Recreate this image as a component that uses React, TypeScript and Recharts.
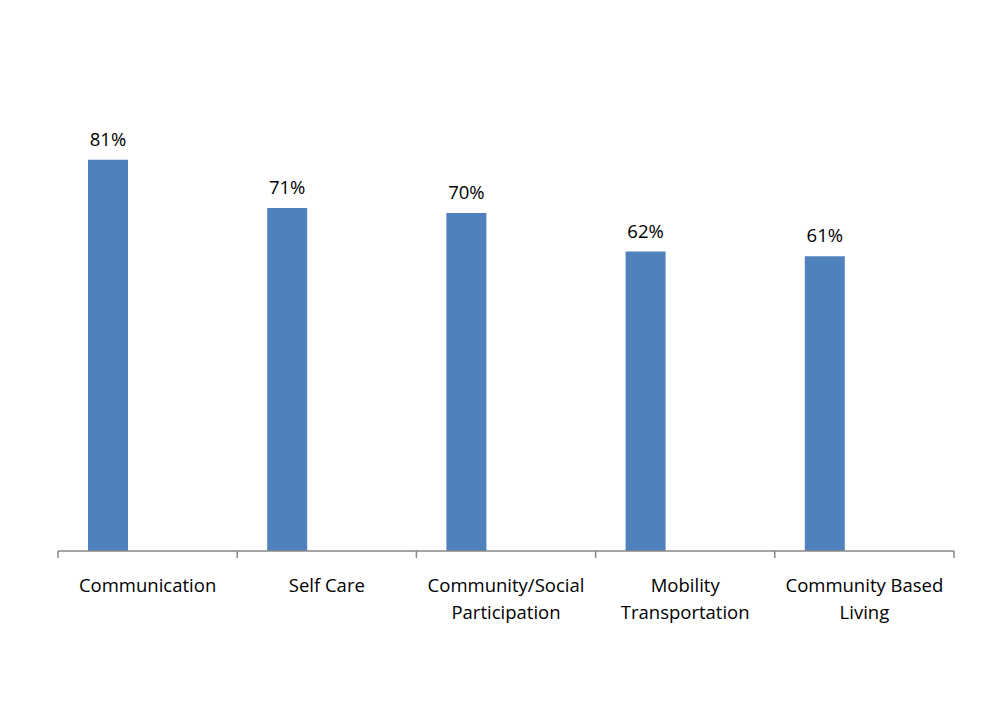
import { BarChart, Bar, XAxis, YAxis, LabelList } from 'recharts'

const categories = ['Communication', 'Self Care', 'Community/Social\nParticipation', 'Mobility\nTransportation', 'Community Based\nLiving']
const shares = [81, 71, 70, 62, 61]
// the chart was built as a 3-series cluster; only the first series has values
const spareA: (number | null)[] = [null, null, null, null, null]
const spareB: (number | null)[] = [null, null, null, null, null]

const data = categories.map((name, i) => ({ name, share: shares[i], a: spareA[i], b: spareB[i] }))

const W = 993
const H = 704
const MARGIN = { top: 68, right: 39, bottom: 93, left: 58 }
const BAND = (W - MARGIN.left - MARGIN.right) / categories.length
const FONT = '"Open Sans", sans-serif'
const FONT_SIZE = 18.5
const AXIS = '#868686'

function CategoryTick(props: any) {
  const { x, y, payload, index } = props
  const lines = String(payload.value).split('\n')
  const half = payload.offset || BAND / 2
  return (
    <g>
      {/* outer frame of the chart area, top and left edges */}
      {index === 0 && <path d={`M7,${H} V7 H${W}`} fill="none" stroke="#000" strokeWidth={2} />}
      <line x1={x - half} y1={y - 8} x2={x - half} y2={y - 1} stroke={AXIS} strokeWidth={1.5} />
      {index === categories.length - 1 && (
        <line x1={x + half} y1={y - 8} x2={x + half} y2={y - 1} stroke={AXIS} strokeWidth={1.5} />
      )}
      <text x={x} y={y + 33} textAnchor="middle" fontFamily={FONT} fontSize={FONT_SIZE} fill="#000">
        {lines.map((l, i) => (
          <tspan key={i} x={x} dy={i === 0 ? 0 : 27}>{l}</tspan>
        ))}
      </text>
    </g>
  )
}

export default function App() {
  return (
    <div style={{ margin: -8, width: W, height: H, background: '#fff' }}>
      <BarChart width={W} height={H} data={data} margin={MARGIN} barGap={0} barSize={40}>
        <XAxis
          dataKey="name"
          height={60}
          interval={0}
          axisLine={{ stroke: AXIS, strokeWidth: 1.5 }}
          tickLine={false}
          tick={<CategoryTick />}
        />
        <YAxis hide domain={[0, 100]} />
        <Bar dataKey="share" fill="#4F81BD" isAnimationActive={false}>
          <LabelList
            dataKey="share"
            position="top"
            offset={14}
            formatter={(v: any) => `${v}%`}
            style={{ fontFamily: FONT, fontSize: FONT_SIZE, fill: '#000' }}
          />
        </Bar>
        <Bar dataKey="a" fill="#C0504D" isAnimationActive={false} />
        <Bar dataKey="b" fill="#9BBB59" isAnimationActive={false} />
      </BarChart>
    </div>
  )
}
